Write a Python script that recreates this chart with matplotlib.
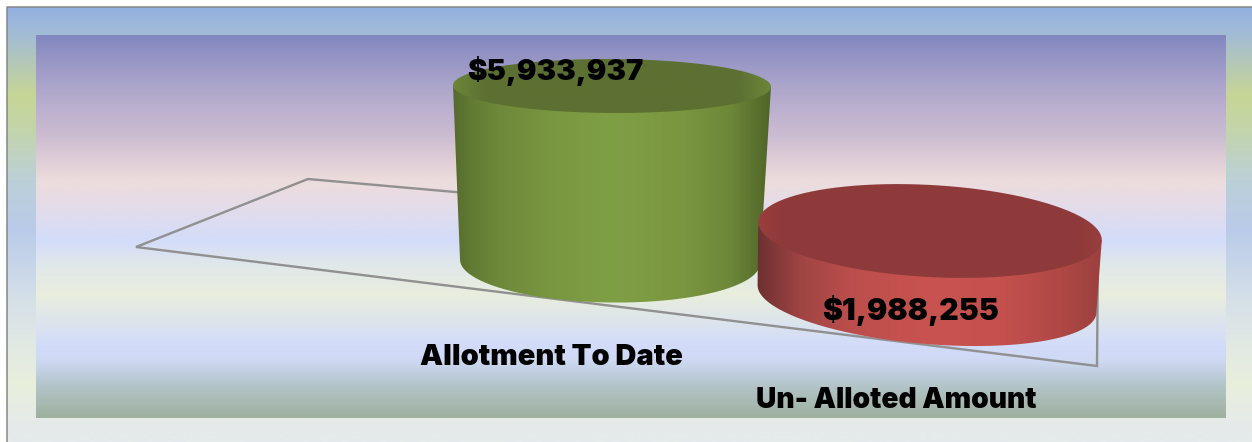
import numpy as np
import matplotlib
matplotlib.use("Agg")
import matplotlib.pyplot as plt
from matplotlib.colors import LinearSegmentedColormap as LSC
from matplotlib.patches import PathPatch
from matplotlib.path import Path

# ---- data ----
categories = ["Allotment To Date", "Un- Alloted Amount"]
amounts = [5933937, 1988255]

# ---- pixel-space scene ----
W, H = 1252, 442
fig = plt.figure(figsize=(W / 100, H / 100), dpi=100, facecolor="white")
ax = fig.add_axes([0, 0, 1, 1])
ax.axis("off")


def stops(ys, cols, y0, y1):
    return LSC.from_list("g", [((y - y0) / (y1 - y0), c) for y, c in zip(ys, cols)], N=512)


def vgrad(x0, x1, y0, y1, ys, cols, z):
    ax.imshow(np.linspace(0, 1, 512)[:, None], extent=(x0, x1, y1, y0), cmap=stops(ys, cols, y0, y1),
              aspect="auto", zorder=z, interpolation="bilinear")


# outer panel
vgrad(7, W, 7, 442,
      [7, 35, 95, 130, 180, 230, 300, 340, 385, 420, 442],
      ["#93b1e1", "#a3bcd4", "#c6d695", "#c3d5ab", "#bcd0d8", "#b9cbe9", "#d5e0e8", "#e0e8e4", "#e9efdc", "#e5ebe8", "#e5eaec"],
      0)
ax.plot([6.5, 6.5, W], [442, 6.5, 6.5], color="#868686", lw=1.1, zorder=1)
# plot wall
vgrad(36, 1226, 35, 418,
      [35, 90, 135, 180, 200, 240, 265, 295, 345, 360, 385, 418],
      ["#8387c0", "#afa8cc", "#ccbcd1", "#eddcdc", "#e7dce6", "#d3dcfa", "#e1e8ea", "#e9eedd", "#d2dcfa", "#cfd9f4", "#b4c5cb", "#9eb09e"],
      2)

# floor outline
ax.plot([1098, 1097, 136, 308, 1100], [249, 366, 247, 179, 249], color="#909090", lw=1.7, zorder=3,
        solid_joinstyle="miter")


def ell(cx, cy, a, b, deg, t):
    th = np.radians(deg)
    return (cx + a * np.cos(t) * np.cos(th) - b * np.sin(t) * np.sin(th),
            cy + a * np.cos(t) * np.sin(th) + b * np.sin(t) * np.cos(th))


def cylinder(top, bot_shape, value, per_unit, xshift, side_x, side_c, top_c, rim, z):
    cx, cy, a, b, deg = top
    a2, b2, deg2 = bot_shape
    cy2 = cy + value * per_unit
    cx2 = cx + xshift
    t0 = np.arctan2(-b2 * np.sin(np.radians(deg2)), a2 * np.cos(np.radians(deg2)))
    t = np.linspace(t0, t0 + np.pi, 200)
    bx, by = ell(cx2, cy2, a2, b2, deg2, t)
    t1 = np.arctan2(-b * np.sin(np.radians(deg)), a * np.cos(np.radians(deg)))
    tx, ty = ell(cx, cy, a, b, deg, np.array([t1 + np.pi, t1]))
    xs = np.r_[bx, tx]
    ys = np.r_[by, ty]
    p = PathPatch(Path(np.c_[xs, ys]), transform=ax.transData)
    x0, x1 = side_x[0], side_x[-1]
    cm = LSC.from_list("s", [((x - x0) / (x1 - x0), c) for x, c in zip(side_x, side_c)], N=512)
    im = ax.imshow(np.linspace(0, 1, 512)[None, :], extent=(x0, x1, cy2 + b2 + 20, cy - 5), cmap=cm,
                   aspect="auto", zorder=z, interpolation="bilinear")
    im.set_clip_path(p)
    t = np.linspace(0, 2 * np.pi, 300)
    ex, ey = ell(cx, cy, a, b, deg, t)
    q = PathPatch(Path(np.c_[ex, ey]), transform=ax.transData)
    u = np.linspace(-1, 1, 300)
    v = np.linspace(-1, 1, 100)
    U, V = np.meshgrid(u, v)
    D = np.clip((np.abs(U) - rim) / (1 - rim), 0, 1)
    cmt = LSC.from_list("t", top_c, N=256)
    im2 = ax.imshow(D, extent=(cx - a - 3, cx + a + 3, cy + b + 12, cy - b - 12), cmap=cmt, vmin=0, vmax=1,
                    aspect="auto", zorder=z + 0.1, interpolation="bilinear")
    im2.set_clip_path(q)


green_side_x = [453, 470, 500, 560, 610, 680, 730, 755, 772]
green_side_c = ["#566b2e", "#617a33", "#6f893b", "#7a9840", "#7f9f45", "#7a9740", "#6d8838", "#5b722f", "#4f6429"]
red_side_x = [756, 775, 800, 850, 930, 1000, 1060, 1105]
red_side_c = ["#6a3030", "#823838", "#9f4443", "#bb4e4c", "#c95350", "#c4514e", "#b04845", "#9a403e"]

unit = 175.5 / amounts[0]
cylinder((612, 86, 159, 27, 0.3), (150, 41, 0.8), amounts[0], unit, -2,
         green_side_x, green_side_c, ["#5c7032", "#6d8839"], 0.78, 4)
cylinder((930, 231, 172, 46, 3.2), (170, 45, 4.9), amounts[1], unit * 1.155, -3,
         red_side_x, red_side_c, ["#8f3a3a", "#9a3f3f"], 0.85, 5)

# ---- text ----
fp = dict(family="Inter", weight=900, color="black", va="center", ha="left", zorder=10)
ax.text(467, 70.5, f"${amounts[0]:,}", fontsize=21, **fp)
ax.text(822, 311, f"${amounts[1]:,}", fontsize=21.7, **fp)
ax.text(420, 357.5, categories[0], fontsize=20.9, **fp)
ax.text(756, 400.5, categories[1], fontsize=20.3, **fp)

ax.set_xlim(0, W)
ax.set_ylim(H, 0)
fig.savefig("out.png", dpi=100, facecolor="white")
